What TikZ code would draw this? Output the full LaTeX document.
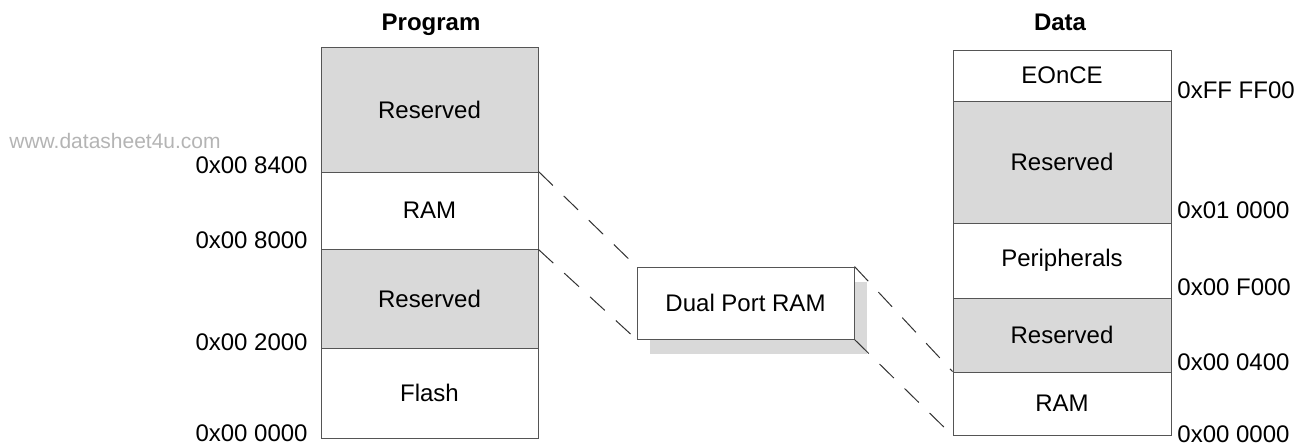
\documentclass[tikz,border=0pt]{standalone}
\usepackage{fontspec}
\setmainfont{Liberation Sans}
\usetikzlibrary{shadows}
\definecolor{resgray}{HTML}{D9D9D9}
\definecolor{framegray}{HTML}{555555}
\definecolor{markgray}{HTML}{B4B4B4}
\tikzset{
  memblock/.style={draw=framegray, line width=0.5pt, minimum width=108.5pt, inner sep=0pt, font=\fontsize{12}{14}\selectfont},
  reserved/.style={memblock, fill=resgray},
  addr/.style={inner sep=0pt, font=\fontsize{12}{14}\selectfont},
  maptitle/.style={inner sep=0pt, font=\fontsize{12}{14}\selectfont\bfseries},
  maplink/.style={dash pattern=on 10pt off 7.5pt, line width=0.5pt, black!80},
}
\begin{document}
\begin{tikzpicture}[x=0.5pt, y=-0.5pt]
    \useasboundingbox (0,0) rectangle (1300,446);
    % program side
    \node [maptitle, anchor=base] (ptitle) at (431, 30) {Program};
    \node [reserved, minimum height=62.5pt] (pres2) at (429.5, 109.5) {Reserved};
    \node [memblock, minimum height=38.5pt] (pram) at (429.5, 210.5) {RAM};
    \node [reserved, minimum height=49.5pt] (pres1) at (429.5, 298.5) {Reserved};
    \node [memblock, minimum height=45pt] (pflash) at (429.5, 393) {Flash};
    \foreach \txt/\yy [count=\i] in {0x00 8400/173, 0x00 8000/248, 0x00 2000/350, 0x00 0000/441}
        \node [addr, anchor=base east] (paddr\i) at (308, \yy) {\txt};
    \node [addr, anchor=base west, text=markgray, font=\fontsize{10.5}{12}\selectfont] (mark) at (9, 148) {www.datasheet4u.com};
    % data side
    \node [maptitle, anchor=base] (dtitle) at (1060, 30) {Data};
    \node [memblock, minimum width=109pt, minimum height=25.5pt] (deonce) at (1062, 75.5) {EOnCE};
    \node [reserved, minimum width=109pt, minimum height=61pt] (dres2) at (1062, 162) {Reserved};
    \node [memblock, minimum width=109pt, minimum height=37.5pt] (dperiph) at (1062, 260.5) {Peripherals};
    \node [reserved, minimum width=109pt, minimum height=37pt] (dres1) at (1062, 335) {Reserved};
    \node [memblock, minimum width=109pt, minimum height=31.5pt] (dram) at (1062, 403.5) {RAM};
    \foreach \txt/\yy [count=\i] in {0xFF FF00/98, 0x01 0000/218, 0x00 F000/295, 0x00 0400/370, 0x00 0000/442}
        \node [addr, anchor=base west] (daddr\i) at (1177, \yy) {\txt};
    % shared block
    \node [memblock, fill=white, minimum height=36pt,
           drop shadow={shadow xshift=6.5pt, shadow yshift=-7.5pt, fill=resgray, opacity=1}] (dpr) at (745.5, 303) {Dual Port RAM};
    \draw [maplink] (pram.north east) -- (dpr.north west);
    \draw [maplink] (pram.south east) -- (dpr.south west);
    \draw [maplink] (dpr.north east) -- (dram.north west);
    \draw [maplink] (dpr.south east) -- (dram.south west);
\end{tikzpicture}
\end{document}
